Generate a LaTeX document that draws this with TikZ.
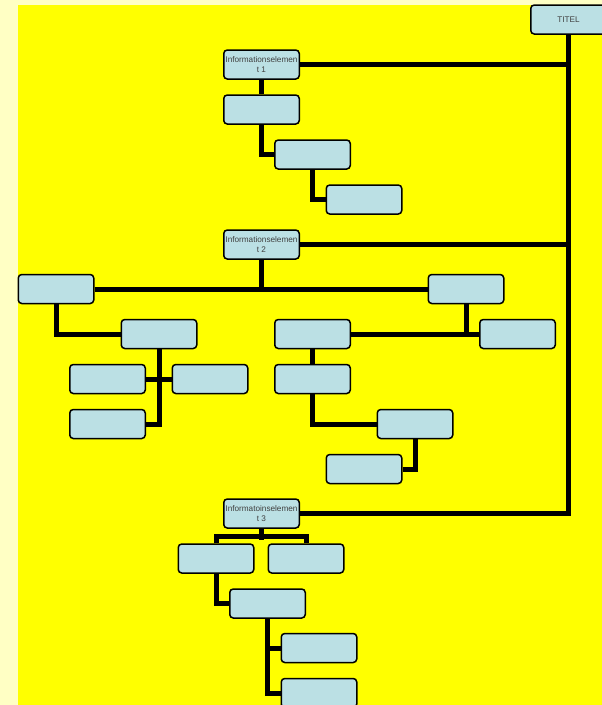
\documentclass[tikz,border=0pt]{standalone}
\usepackage{fontspec}
\setmainfont{Liberation Sans}
\usepackage{xcolor}
\usepackage{tikz}
\usetikzlibrary{calc}
\definecolor{ivpale}{HTML}{FFFFC4}
\definecolor{ivyellow}{HTML}{FFFF00}
\definecolor{ivbox}{HTML}{BBE0E4}
\definecolor{ivtext}{HTML}{404040}
\tikzset{
  elem/.style ={rectangle, rounded corners=3.5pt, draw=black, fill=ivbox, line width=1.5pt,
                minimum width=75.5pt, minimum height=29pt, inner sep=1pt, align=center,
                text=ivtext, font=\fontsize{8.2}{9.5}\selectfont},
  link/.style ={draw=black, line width=5pt},
}

\begin{document}
\begin{tikzpicture}[x=1pt, y=-1pt]
  \useasboundingbox (0,0) rectangle (602,705);
  \fill[ivpale] (0,0) rectangle (602,705);
  \fill[ivyellow] (18,5) rectangle (602,705);
  % top level
  \node[elem] (titel) at (568.5, 19.5) {TITEL};
  \node[elem] (ie1)   at (261.5, 64.5) {Informationselemen\\t 1};
  \node[elem] (a1)    at (261.5,109.5) {};
  \node[elem] (a2)    at (312.5,154.5) {};
  \node[elem] (a3)    at (364.0,199.5) {};
  % element 2
  \node[elem] (ie2)   at (261.5,244.5) {Informationselemen\\t 2};
  \node[elem] (bl)    at ( 56.0,289.0) {};
  \node[elem] (br)    at (466.0,289.0) {};
  \node[elem] (bl1)   at (159.0,334.0) {};
  \node[elem] (bm)    at (312.5,334.0) {};
  \node[elem] (br1)   at (517.5,334.0) {};
  \node[elem] (bla)   at (107.5,379.0) {};
  \node[elem] (blb)   at (210.0,379.0) {};
  \node[elem] (bm1)   at (312.5,379.0) {};
  \node[elem] (blc)   at (107.5,424.0) {};
  \node[elem] (bm2)   at (415.0,424.0) {};
  \node[elem] (bm3)   at (364.0,469.0) {};
  % element 3
  \node[elem] (ie3)   at (261.5,513.5) {Informatoinselemen\\t 3};
  \node[elem] (c1)    at (216.0,558.5) {};
  \node[elem] (c2)    at (306.0,558.5) {};
  \node[elem] (c3)    at (267.5,603.5) {};
  \node[elem] (c4)    at (319.0,648.0) {};
  \node[elem] (c5)    at (319.0,693.0) {};
  \coordinate (j3) at (261.5,536.5);
  % trunk
  \draw[link] (titel.south) |- (ie3.east);
  \draw[link] (ie1.east) -- (ie1 -| titel);
  \draw[link] (ie2.east) -- (ie2 -| titel);
  % subtree 1
  \draw[link] (ie1) -- (a1);
  \draw[link] (a1.south) |- (a2.west);
  \draw[link] (a2.south) |- (a3.west);
  % subtree 2
  \draw[link] (ie2.south) -- (ie2.south |- bl.east);
  \draw[link] (bl.east) -- (br.west);
  \draw[link] (bl.south) |- (bl1.west);
  \draw[link] (br.south) -- ($(br.south |- br1.west)+(0,3)$);
  \draw[link] (bm.east) -- (br1.west);
  \draw[link] (bl1.south) |- (blc.east);
  \draw[link] (bla.east) -- (blb.west);
  \draw[link] (bm) -- (bm1);
  \draw[link] (bm1.south) |- (bm2.west);
  \draw[link] (bm2.south) |- (bm3.east);
  % subtree 3
  \draw[link] (ie3.south) -- ($(j3)+(0,3)$);
  \draw[link] (c1.north) |- (j3) -| (c2.north);
  \draw[link] (c1.south) |- (c3.west);
  \draw[link] (c3.south) |- (c5.west);
  \draw[link] (c3.south |- c4.west) -- (c4.west);
\end{tikzpicture}
\end{document}
